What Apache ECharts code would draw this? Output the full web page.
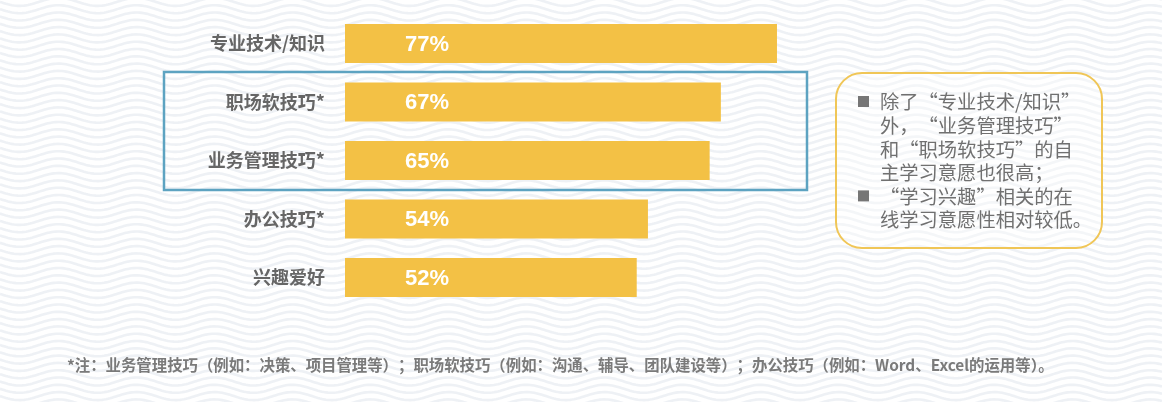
<!DOCTYPE html>
<html>
<head>
<meta charset="utf-8">
<script src="https://cdn.jsdelivr.net/npm/echarts@6/dist/echarts.min.js"></script>
<style>
html,body{margin:0;padding:0;width:1162px;height:402px;overflow:hidden;background:#fff;}
#bg{position:absolute;left:0;top:0;}
#main{position:absolute;left:0;top:0;width:1162px;height:402px;}
</style>
</head>
<body>
<canvas id="bg" width="1162" height="402"></canvas>
<div id="main"></div>
<script>
// ---- data ----
const categories = ['专业技术/知识', '职场软技巧*', '业务管理技巧*', '办公技巧*', '兴趣爱好'];
const values = [77, 67, 65, 54, 52];
const calloutLines = [
  '除了“专业技术/知识”',
  '外，“业务管理技巧”',
  '和“职场软技巧”的自',
  '主学习意愿也很高；',
  '“学习兴趣”相关的在',
  '线学习意愿性相对较低。'
];
const bulletLineIndexes = [0, 4];
const footnote = '*注：业务管理技巧（例如：决策、项目管理等）；职场软技巧（例如：沟通、辅导、团队建设等）；办公技巧（例如：Word、Excel的运用等）。';

// ---- decorative wavy background ----
(function(){
  const c = document.getElementById('bg');
  const ctx = c.getContext('2d');
  ctx.fillStyle = '#ffffff';
  ctx.fillRect(0,0,1162,402);
  ctx.strokeStyle = 'rgba(222,228,236,0.5)';
  ctx.lineWidth = 2.6;
  const period = 78, amp = 4, gap = 7.3;
  for (let y0 = -20; y0 < 430; y0 += gap) {
    ctx.beginPath();
    for (let x = 0; x <= 1162; x += 2) {
      const y = y0 + amp * Math.sin(2 * Math.PI * x / period);
      if (x === 0) ctx.moveTo(x, y); else ctx.lineTo(x, y);
    }
    ctx.stroke();
  }
})();

const chart = echarts.init(document.getElementById('main'), null, {renderer: 'canvas'});
const cjk = "'Noto Sans CJK SC', 'Microsoft YaHei', sans-serif";

const graphics = [
  // blue highlight rectangle
  { type: 'rect', shape: { x: 164, y: 72, width: 643, height: 118 },
    style: { fill: 'none', stroke: '#5DA3C1', lineWidth: 2.5 }, z: 10 },
  // callout box
  { type: 'rect', shape: { x: 836, y: 73, width: 266, height: 175, r: 26 },
    style: { fill: 'rgba(255,255,255,0.35)', stroke: '#F0C657', lineWidth: 2 }, z: 10 },
  // footnote
  { type: 'text', left: 67, top: 357,
    style: { text: footnote, fill: '#7a7a7a', font: 'bold 15.4px ' + cjk }, z: 10 }
];
calloutLines.forEach((t, i) => {
  const cy = 102 + i * 23.6;
  graphics.push({ type: 'text', x: 880, y: cy,
    style: { text: t, fill: '#707070', font: '19.3px ' + cjk, textVerticalAlign: 'middle' }, z: 11 });
});
bulletLineIndexes.forEach(i => {
  const cy = 102 + i * 23.6;
  graphics.push({ type: 'rect', shape: { x: 858, y: cy - 6, width: 11, height: 11 },
    style: { fill: '#767676' }, z: 11 });
});

chart.setOption({
  backgroundColor: 'transparent',
  animation: false,
  grid: { left: 345, width: 561, top: 14.25, height: 292.5, containLabel: false },
  xAxis: { type: 'value', min: 0, max: 100, show: false },
  yAxis: {
    type: 'category', data: categories, inverse: true,
    axisLine: { show: false }, axisTick: { show: false }, splitLine: { show: false },
    axisLabel: { margin: 20, color: '#666666', fontSize: 18, fontWeight: 'bold', fontFamily: cjk }
  },
  series: [{
    type: 'bar', data: values, barWidth: 39,
    itemStyle: { color: '#F3C145' },
    label: {
      show: true, position: 'insideLeft', offset: [55, 1],
      formatter: p => p.value + '%',
      color: '#ffffff', fontSize: 22, fontWeight: 'bold',
      fontFamily: "'Liberation Sans', Arial, sans-serif"
    }
  }],
  graphic: graphics
});
</script>
</body>
</html>
